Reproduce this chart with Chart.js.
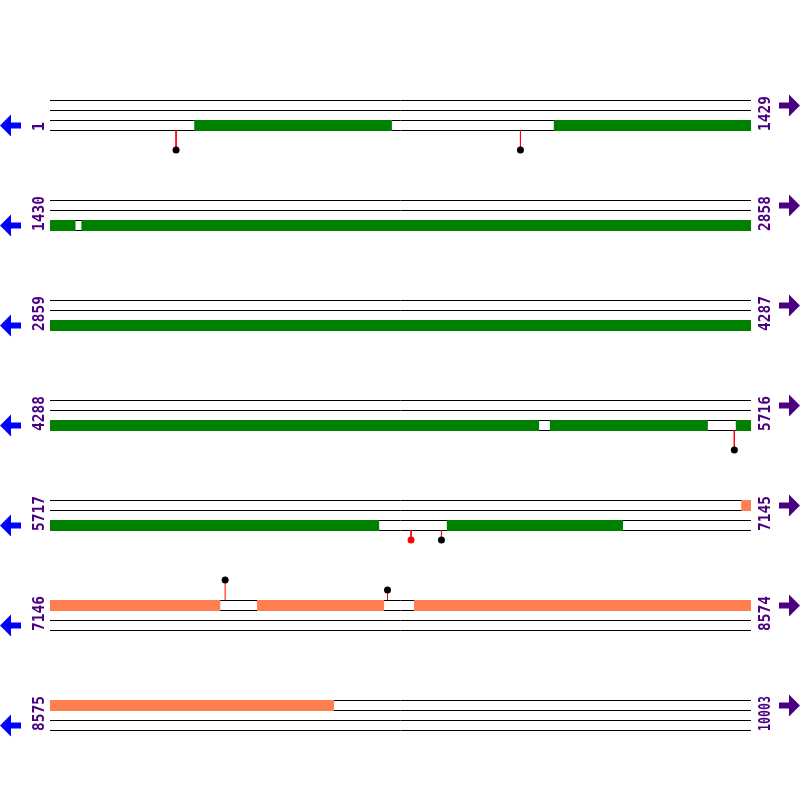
<!DOCTYPE html>
<html>
<head>
<meta charset="utf-8">
<script src="https://cdn.jsdelivr.net/npm/chart.js@4.4.1/dist/chart.umd.min.js"></script>
<style>
  body { margin: 0; background: #fff; }
  #wrap { width: 800px; height: 800px; }
</style>
</head>
<body>
<div id="wrap"><canvas id="mapChart" width="800" height="800"></canvas></div>
<script>
// Rows of the map (genome coordinates)
const rowStarts = [1, 1430, 2859, 4288, 5717, 7146, 8575];
const rowEnds = [1429, 2858, 4287, 5716, 7145, 8574, 10003];

// Green features (lowest track)
const greenStarts = [295, 1028, 1494, 5307, 5686, 6526];
const greenEnds = [698, 1482, 5285, 5629, 6388, 6885];

// Orange features (top track)
const orangeStarts = [7126, 7568, 7888];
const orangeEnds = [7493, 7827, 9154];

// Markers (lollipops): position, height (+ below, - above), dot colour
const markerPositions = [258, 960, 5683, 6453, 6515, 7503, 7834];
const markerHeights = [20, 20, 20, 10, 10, -20, -10];
const markerColors = ['#000000', '#000000', '#000000', '#ff0000', '#000000', '#000000', '#000000'];

// Layout
const rowLen = 1429;
const rowTop = i => 100 + i * 100;
const pxPerBase = 701 / rowLen;
const colors = {
    green: '#008000',
    orange: '#ff7f50',
    line: '#000000',
    stem: '#ff0000',
    label: '#4b0082',
    leftArrow: '#0000ff',
    rightArrow: '#4b0082'
};

function rowOf(pos) {
    return Math.floor((pos - 1) / rowLen);
}

const datasets = [];

// Track lines, 4 per row
rowStarts.forEach((start, i) => {
    for (let k = 0; k < 4; k++) {
        const y = rowTop(i) + k * 10 + 0.5;
        datasets.push({
            data: [{ x: 0, y: y }, { x: rowLen, y: y }],
            borderColor: colors.line,
            borderWidth: 1,
            pointRadius: 0,
            order: 3
        });
    }
});

// Feature bars, split across rows
function addFeatures(starts, ends, lane, color) {
    starts.forEach((s, n) => {
        const e = ends[n];
        for (let i = rowOf(s); i <= rowOf(e); i++) {
            const rs = rowStarts[i];
            const u0 = Math.max(s, rs) - rs;
            const u1 = Math.min(e, rowEnds[i] + 1) - rs;
            const y = rowTop(i) + lane * 10 + 5.5;
            datasets.push({
                data: [{ x: u0, y: y }, { x: u1, y: y }],
                borderColor: color,
                borderWidth: 11,
                borderCapStyle: 'butt',
                pointRadius: 0,
                order: 2
            });
        }
    });
}
addFeatures(greenStarts, greenEnds, 2, colors.green);
addFeatures(orangeStarts, orangeEnds, 0, colors.orange);

// Marker stems and dots
const dots = [];
markerPositions.forEach((pos, n) => {
    const i = rowOf(pos);
    const u = pos - rowStarts[i];
    const h = markerHeights[n];
    const y0 = h > 0 ? rowTop(i) + 30 : rowTop(i);
    const y1 = y0 + h;
    datasets.push({
        data: [{ x: u, y: y0 }, { x: u, y: y1 }],
        borderColor: colors.stem,
        borderWidth: 1,
        pointRadius: 0,
        order: 1
    });
    dots.push({ x: u, y: y1 });
});
datasets.push({
    data: dots,
    showLine: false,
    pointRadius: 3.5,
    pointBorderWidth: 0,
    pointBackgroundColor: markerColors,
    order: 0
});

// Row labels and strand arrows
const labelPlugin = {
    id: 'rowLabels',
    afterDraw(chart) {
        const ctx = chart.ctx;
        const yScale = chart.scales.y;
        ctx.save();
        ctx.font = "bold 15px 'DejaVu Sans Mono', monospace";
        ctx.textAlign = 'left';
        ctx.textBaseline = 'middle';
        rowStarts.forEach((start, i) => {
            const yb = yScale.getPixelForValue(rowTop(i) + 31);
            ctx.fillStyle = colors.label;
            [[40, String(start)], [766, String(rowEnds[i])]].forEach(([x, txt]) => {
                ctx.save();
                ctx.translate(x, yb);
                ctx.rotate(-Math.PI / 2);
                ctx.fillText(txt, 0, 0, 35);
                ctx.restore();
            });

            // left arrow (blue), pointing left
            let c = yScale.getPixelForValue(rowTop(i) + 25.5);
            ctx.fillStyle = colors.leftArrow;
            ctx.beginPath();
            ctx.moveTo(0, c);
            ctx.lineTo(11, c - 11);
            ctx.lineTo(11, c - 3);
            ctx.lineTo(21, c - 3);
            ctx.lineTo(21, c + 3);
            ctx.lineTo(11, c + 3);
            ctx.lineTo(11, c + 11);
            ctx.closePath();
            ctx.fill();

            // right arrow (purple), pointing right
            c = yScale.getPixelForValue(rowTop(i) + 5.5);
            ctx.fillStyle = colors.rightArrow;
            ctx.beginPath();
            ctx.moveTo(800, c);
            ctx.lineTo(789, c - 11);
            ctx.lineTo(789, c - 3);
            ctx.lineTo(779, c - 3);
            ctx.lineTo(779, c + 3);
            ctx.lineTo(789, c + 3);
            ctx.lineTo(789, c + 11);
            ctx.closePath();
            ctx.fill();
        });
        ctx.restore();
    }
};

new Chart(document.getElementById('mapChart'), {
    type: 'line',
    data: { datasets: datasets },
    options: {
        responsive: false,
        animation: false,
        layout: { padding: 0, autoPadding: false },
        plugins: {
            legend: { display: false },
            tooltip: { enabled: false }
        },
        scales: {
            x: {
                type: 'linear',
                display: false,
                min: -50 / pxPerBase,
                max: 750 / pxPerBase
            },
            y: {
                type: 'linear',
                display: false,
                min: 0,
                max: 800,
                reverse: true
            }
        }
    },
    plugins: [labelPlugin]
});
</script>
</body>
</html>
